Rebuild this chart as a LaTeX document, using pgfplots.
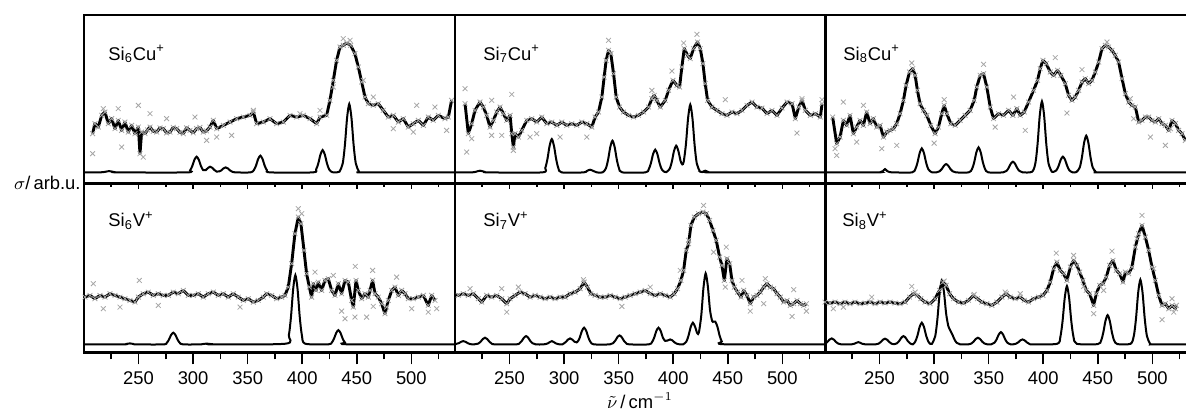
\documentclass[border=0pt]{standalone}
\usepackage{fontspec}
\setmainfont{Liberation Sans}
\usepackage{pgfplots}
\usepackage{pgfplotstable}
\pgfplotsset{compat=1.18}

% experimental traces (x in cm^-1, y in arbitrary units)
\pgfplotstableread{
x y
207.9 49.7
210.0 59.7
213.1 56.3
216.2 68.0
219.2 71.3
222.3 59.7
225.3 64.7
228.4 54.7
231.4 63.0
234.5 53.0
237.5 61.3
240.6 51.3
243.7 58.0
246.7 49.7
249.8 56.3
251.3 29.7
252.8 51.3
255.9 49.7
258.2 53.5
260.5 56.3
263.5 52.0
266.6 51.3
269.6 55.5
272.7 54.7
275.7 50.5
278.8 51.3
281.8 56.0
284.9 54.7
288.0 51.0
291.0 49.7
294.0 55.5
297.1 53.0
300.1 50.5
303.2 54.7
306.2 56.0
309.3 51.3
312.3 52.5
315.4 56.3
318.5 63.0
321.6 54.7
327.7 58.0
333.8 61.3
339.9 64.7
346.0 66.3
352.1 68.0
355.2 71.3
358.2 59.7
364.3 61.3
370.4 64.7
376.5 59.7
382.7 61.3
388.8 68.0
394.9 66.3
401.0 68.0
407.1 64.7
413.2 59.7
416.3 66.3
422.4 68.0
425.4 83.0
428.5 103.0
431.5 123.0
434.6 136.3
437.6 138.0
440.7 140.3
444.4 138.0
448.3 129.7
451.4 116.3
454.5 101.3
457.5 86.3
460.6 79.7
465.1 78.0
469.7 79.7
474.3 73.0
478.9 66.3
483.5 68.0
488.1 61.3
492.6 64.7
497.2 56.3
501.8 59.7
506.4 63.0
511.0 58.0
515.5 66.3
520.1 63.0
524.7 68.0
530.8 64.7
533.9 66.3
536.9 83.0
}\expA
\pgfplotstableread{
x y
207.9 29.7
217.7 74.7
231.4 74.7
234.5 36.3
249.8 78.0
254.3 26.3
260.5 69.7
275.7 64.7
301.7 66.3
312.4 43.0
321.6 46.3
335.3 48.0
355.2 73.0
397.9 69.7
416.3 73.0
428.5 96.3
437.6 144.7
443.8 143.0
456.0 103.0
465.1 86.3
483.5 54.7
501.8 51.3
504.9 78.0
521.6 76.3
532.3 53.0
}\outA

\pgfplotstableread{
x y
209.2 79.7
212.2 49.7
215.3 59.7
218.3 73.0
222.9 81.3
226.0 76.3
229.0 68.0
232.1 56.3
235.2 63.0
238.2 71.3
241.3 76.3
244.3 69.7
247.4 63.0
250.5 68.0
252.0 49.7
253.5 36.3
255.0 49.7
258.1 46.3
261.2 53.0
265.7 63.0
270.3 64.7
274.9 61.3
279.5 66.3
284.1 59.7
288.7 61.3
293.3 58.0
297.9 61.3
302.4 58.0
307.0 59.7
311.6 58.0
316.2 61.3
320.8 59.7
325.4 56.3
328.4 66.3
331.5 71.3
334.6 86.3
336.7 106.3
338.5 123.0
340.7 133.0
342.8 129.7
345.3 109.7
347.7 86.3
350.8 76.3
354.4 71.3
359.0 68.0
363.6 66.3
368.2 68.0
372.8 71.3
377.4 76.3
380.4 84.7
382.6 88.0
385.0 83.0
388.1 76.3
392.7 83.0
395.7 93.0
399.7 103.0
403.4 98.0
405.8 96.3
407.9 116.3
410.1 134.7
413.1 128.0
415.6 124.7
418.6 134.7
422.3 141.3
424.8 134.7
427.2 119.7
429.3 99.7
431.5 83.0
435.5 76.3
440.1 73.0
444.6 69.7
449.2 68.0
453.8 71.3
458.4 69.7
463.0 73.0
467.6 78.0
472.2 81.3
476.7 76.3
481.3 75.3
485.9 69.7
490.5 73.0
495.1 68.0
499.7 75.3
504.3 81.3
508.9 79.7
511.9 64.7
515.0 76.3
518.0 83.0
521.1 73.0
525.7 68.0
530.3 69.7
534.8 66.3
536.4 79.7
}\expB
\pgfplotstableread{
x y
209.2 94.7
210.7 31.3
215.3 44.7
233.6 83.0
233.6 48.0
242.8 48.0
252.0 89.0
253.5 33.0
268.8 46.3
274.9 49.7
296.3 46.3
320.8 46.3
340.7 143.0
380.4 93.0
398.8 112.3
409.5 140.3
421.7 149.0
447.7 83.7
513.4 50.3
518.0 84.7
536.4 83.7
}\outB

\pgfplotstableread{
x y
207.0 66.3
210.7 39.7
213.8 46.3
216.8 63.0
219.9 58.0
222.9 68.0
226.0 49.7
229.0 56.3
232.1 63.0
235.2 58.0
238.2 71.3
241.3 59.7
244.3 64.7
247.4 56.3
250.5 58.0
253.5 46.3
256.6 51.3
259.6 53.0
262.7 54.7
265.7 59.7
268.8 69.7
271.9 83.0
274.3 98.0
277.4 111.3
280.4 114.7
282.6 108.0
284.7 93.0
287.1 79.7
290.2 73.0
293.3 68.0
296.9 58.0
300.9 49.7
304.0 56.3
307.0 69.7
309.2 78.0
311.6 69.7
315.3 59.7
319.3 58.0
323.8 63.0
328.4 68.0
333.0 73.0
336.7 83.0
339.1 96.3
342.2 108.0
345.3 109.7
348.3 96.3
351.4 76.3
354.4 64.7
359.0 69.7
363.6 68.0
368.2 73.0
372.2 68.0
375.8 74.7
378.9 68.0
382.6 71.3
386.5 81.3
391.1 93.0
394.8 103.0
397.2 114.7
399.7 123.0
402.7 119.7
406.4 111.3
409.5 108.0
413.1 113.0
416.2 108.0
420.2 99.7
423.2 88.0
426.3 83.0
429.3 86.3
432.4 93.0
435.5 101.3
438.5 104.7
441.6 99.7
444.6 103.0
447.7 111.3
450.8 121.3
453.8 134.7
456.9 138.0
459.9 136.3
463.0 133.0
466.0 128.0
469.1 121.3
472.2 104.7
475.2 89.7
478.3 81.3
481.3 78.0
484.4 76.3
487.5 61.3
490.5 63.0
493.6 66.3
496.6 66.3
499.7 63.0
502.7 61.3
505.8 64.7
508.9 59.7
511.9 58.0
515.0 53.0
518.0 63.0
521.1 59.7
524.1 53.0
527.2 49.7
530.3 43.0
}\expC
\pgfplotstableread{
x y
209.2 34.7
210.7 28.0
216.8 81.3
229.0 41.3
235.2 78.0
252.0 34.7
265.7 38.0
279.5 120.3
300.0 40.3
309.2 83.7
345.3 119.0
355.9 56.3
372.8 86.3
383.5 53.0
411.0 125.7
421.7 70.3
435.5 113.7
458.4 141.3
479.8 84.7
482.9 64.7
498.2 46.3
511.9 38.0
516.5 54.7
}\outC

\pgfplotstableread{
x y
200.9 55.3
205.5 57.0
210.0 53.7
214.6 57.0
219.2 55.3
223.8 58.7
228.4 57.0
233.0 55.3
237.5 53.7
242.1 52.0
246.7 50.3
249.8 55.3
254.3 58.7
258.9 60.3
263.5 57.0
268.1 58.7
272.7 57.0
277.3 57.0
281.8 60.3
286.4 58.7
291.0 62.0
295.6 57.0
300.2 57.0
304.8 58.7
309.3 55.3
313.9 58.7
318.5 60.3
323.1 57.0
327.7 58.7
332.2 55.3
336.8 58.7
341.4 55.3
346.0 52.0
350.6 53.7
355.2 50.3
359.7 52.0
364.3 55.3
367.4 58.7
372.0 57.0
376.5 53.7
381.1 55.3
384.2 57.0
387.2 65.3
390.3 88.7
393.3 118.7
396.4 135.3
398.8 128.7
401.6 102.0
404.0 78.7
406.5 65.3
408.6 55.3
410.2 68.7
412.6 62.0
414.7 70.3
417.8 62.0
420.8 72.0
423.9 73.7
426.9 62.0
430.0 57.0
433.1 68.7
436.1 58.7
439.2 72.0
442.2 70.3
445.3 52.0
446.8 45.3
449.3 72.0
451.4 62.0
454.5 53.7
457.5 58.7
460.6 55.3
462.1 62.0
464.5 72.0
466.7 58.7
469.7 55.3
472.8 48.7
475.8 38.7
478.9 52.0
482.0 62.0
485.0 65.3
488.1 57.0
491.1 62.0
494.2 58.7
497.2 53.7
501.8 53.7
506.4 55.3
511.0 57.0
515.5 47.0
518.6 57.0
521.7 52.0
}\expD
\pgfplotstableread{
x y
208.5 68.7
217.7 43.7
233.0 45.3
250.7 72.0
268.1 47.0
343.0 45.3
396.4 143.7
399.5 138.7
411.7 80.3
428.5 77.0
436.1 41.3
439.2 33.7
448.3 35.3
448.6 86.0
459.0 35.3
464.5 82.0
465.1 46.0
477.4 45.3
486.5 75.3
500.3 43.7
515.5 40.3
523.2 43.7
}\outD

\pgfplotstableread{
x y
198.5 58.7
203.0 57.0
207.6 58.7
212.2 57.0
216.8 58.7
221.4 53.7
224.5 50.3
229.0 57.0
233.6 55.3
238.2 57.0
242.8 53.7
247.4 48.7
250.5 53.7
255.0 57.0
259.6 60.3
264.2 58.7
268.8 55.3
273.4 57.0
278.0 55.3
282.6 53.7
287.1 55.3
291.7 53.7
296.3 55.3
300.9 55.3
305.5 58.7
310.1 60.3
314.7 63.7
318.3 70.3
321.4 65.3
324.5 58.7
328.4 57.0
333.0 55.3
337.6 55.3
342.2 57.0
346.8 55.3
351.4 53.7
355.9 55.3
360.5 57.0
365.1 58.7
369.7 60.3
374.3 62.0
378.9 58.7
383.5 57.0
388.1 58.7
392.7 57.0
397.2 55.3
400.9 58.7
404.0 63.7
407.0 72.0
409.5 82.0
411.9 102.0
414.1 108.7
416.2 127.0
419.3 135.3
423.2 138.7
427.2 140.3
430.3 138.7
433.3 132.0
436.4 122.0
439.4 112.0
442.5 95.3
444.6 87.0
446.8 72.0
449.2 93.7
451.7 88.7
453.8 72.0
456.0 65.3
459.0 60.3
462.1 55.3
464.5 62.0
467.6 57.0
470.6 48.7
473.7 55.3
476.7 57.0
479.8 60.3
482.9 65.3
485.9 68.7
489.0 65.3
492.0 63.7
495.1 58.7
498.2 55.3
501.2 50.3
504.3 52.0
507.3 47.0
510.4 48.7
513.4 52.0
516.5 48.7
519.6 47.0
522.0 48.7
}\expE
\pgfplotstableread{
x y
199.1 45.3
213.8 63.7
242.8 63.7
247.4 40.3
258.1 65.3
317.7 72.7
352.9 46.0
378.9 65.3
406.4 82.0
414.1 112.0
427.8 147.0
437.0 100.3
447.7 65.3
448.6 105.3
463.0 72.0
470.6 41.3
482.9 48.7
484.4 73.7
508.9 36.0
510.4 62.7
522.0 41.3
}\outE

\pgfplotstableread{
x y
200.0 50.3
204.6 49.3
209.2 50.3
213.8 48.7
218.3 50.3
222.9 48.7
227.5 50.3
232.1 48.7
236.7 49.3
241.3 50.3
245.9 48.7
250.5 50.3
255.0 49.3
259.6 50.3
264.2 49.3
268.8 48.7
273.4 50.3
277.4 55.3
281.0 58.7
284.7 57.0
287.8 53.7
291.7 50.3
296.3 48.7
300.9 53.7
304.9 62.0
307.9 70.3
311.0 67.0
314.1 58.7
317.7 53.7
322.3 50.3
326.9 49.3
331.5 52.0
336.1 57.0
339.7 53.7
343.7 50.3
348.3 48.7
352.9 47.0
357.5 50.3
362.1 55.3
366.1 58.7
369.7 55.3
374.3 53.7
378.9 55.3
382.6 52.0
386.5 50.3
391.1 53.7
395.7 55.3
399.7 57.0
403.4 62.0
406.4 70.3
409.5 83.7
412.5 90.3
415.6 82.0
418.6 78.7
421.7 72.0
424.8 85.3
427.8 92.0
430.9 87.0
433.3 80.3
436.4 72.0
439.4 62.0
442.5 58.7
446.2 47.0
448.6 58.7
451.7 67.0
454.7 68.7
457.8 75.3
460.8 87.0
463.9 92.0
467.0 82.0
470.0 78.7
473.1 70.3
475.2 80.3
478.3 78.7
481.3 85.3
484.4 105.3
487.5 118.7
490.5 127.0
493.6 115.3
496.6 102.0
499.7 85.3
502.7 72.0
505.8 57.0
508.9 47.0
511.9 48.7
515.0 43.7
518.0 47.0
521.1 43.7
522.0 47.0
}\expF
\pgfplotstableread{
x y
207.6 43.7
216.8 45.3
242.8 55.3
279.5 66.0
282.6 60.3
309.2 71.3
336.7 58.0
365.1 60.3
378.9 58.7
411.9 99.3
427.8 97.0
437.0 66.0
446.2 38.7
455.3 62.0
463.0 101.3
485.9 113.7
490.5 137.0
501.2 83.7
508.9 32.7
518.0 53.7
519.6 40.3
}\outF

\pgfplotsset{
  panel/.style={
    scale only axis, width=185.5pt,
    xmin=200, xmax=540, ymin=0,
    xtick={250,300,...,500}, minor xtick={225,275,...,525},
    ytick=\empty, xtick pos=left, tick align=outside,
    axis line style={line width=1.1pt},
    every tick/.style={black, line width=0.8pt},
    ticklabel style={font=\fontsize{9.2}{10}\selectfont},
    /pgf/number format/assume math mode=true,
  },
  toprow/.style={panel, height=84.2pt, ymax=168.3, xticklabels={},
    major tick length=2.6pt, minor tick length=1.6pt},
  botrow/.style={panel, height=84.5pt, ymax=169,
    major tick length=6pt, minor tick length=3.5pt},
  rawpts/.style={only marks, mark=x, mark size=1.7pt,
    mark options={gray!70, line width=0.4pt}},
  trace/.style={no marks, black, line width=1.45pt, line join=round},
  calc/.style={no marks, black, line width=1pt, smooth, tension=0.45},
}

\begin{document}
\begin{tikzpicture}
\path[use as bounding box] (0,0) rectangle (593pt,-208.5pt);

% ---- top row ----
\begin{axis}[toprow, at={(42pt,-7.5pt)}, anchor=north west]
\addplot[rawpts] table {\expA};
\addplot[rawpts] table {\outA};
\addplot[trace] table {\expA};
\addplot[calc] coordinates {(200,11) (214,11) (219,11.5) (223,12.3) (227,11.5) (232,11) (294.2,11) (297.2,13.0) (299.2,17.3) (301.2,23.6) (303.2,26.7) (305.2,23.6) (307.2,17.3) (309.2,13.3) (311.5,13.2) (313.5,15.3) (315.5,16.7) (317.5,15.6) (319.5,13.4) (321.5,11.8) (324,12) (325.8,13) (327.8,15) (329.8,16) (331.8,15) (333.8,13) (335.8,11.7) (339,11) (352.6,11) (355.6,13.2) (357.6,17.7) (359.6,24.4) (361.6,27.7) (363.6,24.4) (365.6,17.7) (367.6,13.2) (370.6,11) (409.7,11) (412.7,13.9) (414.7,19.9) (416.7,28.8) (418.7,33.3) (420.7,28.8) (422.7,19.9) (424.7,13.9) (427.5,11.2) (432,11.1) (434.1,11.7) (437.1,19.9) (439.1,38.3) (441.1,65.6) (443.1,79.3) (445.1,65.6) (447.1,38.3) (449.1,19.9) (452.1,11.7) (455,11) (540,11)};
\end{axis}

\begin{axis}[toprow, at={(227.5pt,-7.5pt)}, anchor=north west]
\addplot[rawpts] table {\expB};
\addplot[rawpts] table {\outB};
\addplot[trace] table {\expB};
\addplot[calc] coordinates {(200,11) (215,11) (219,11.6) (222.9,12.7) (227,11.6) (231,11) (279.7,11) (282.7,15.3) (284.7,24.3) (286.7,37.6) (288.7,44.3) (290.7,37.6) (292.7,24.3) (294.7,15.3) (297.7,11) (318,11) (320.8,12.4) (323.8,13.7) (326.8,12.4) (330,11) (335.3,11) (338.3,15.1) (340.3,23.7) (342.3,36.4) (344.3,42.7) (346.3,36.4) (348.3,23.7) (350.3,15.1) (353.3,11) (374.5,11) (377.5,14) (379.5,20.1) (381.5,29.2) (383.5,33.7) (385.5,29.2) (387.5,20.1) (389.5,14) (392,11.5) (393.7,11.3) (396.7,14.5) (398.7,21.7) (400.7,32.4) (402.7,37.7) (404.7,32.4) (406.7,22.5) (408.3,19) (409.6,21.6) (411.6,38.8) (413.6,65.2) (415.6,78.7) (417.6,65.2) (419.6,38.1) (421.6,19.8) (424.6,11.7) (426.5,11.3) (429.3,12.7) (432,11.5) (436,11) (540,11)};
\end{axis}

\begin{axis}[toprow, at={(412.5pt,-7.5pt)}, anchor=north west]
\addplot[rawpts] table {\expC};
\addplot[rawpts] table {\outC};
\addplot[trace] table {\expC};
\addplot[calc] coordinates {(200,11) (248,11) (251,11.4) (253,12.3) (255,14.3) (257,12.3) (259,11.4) (263,11) (279.7,11) (282.7,14.1) (284.7,20.6) (286.7,30.2) (288.7,35) (290.7,30.2) (292.7,20.6) (294.7,14.1) (297.7,11.2) (302,11) (305,12.1) (307,14.3) (309,17.6) (311,19.3) (313,17.6) (315,14.3) (317,12.1) (320,11) (331.7,11) (334.7,14.3) (336.7,21) (338.7,31) (340.7,36) (342.7,31) (344.7,21) (346.7,14.3) (349.7,11) (363.2,11) (366.2,12.4) (368.2,15.3) (370.2,19.6) (372.2,21.7) (374.2,19.6) (376.2,15.3) (378.2,12.4) (381.2,11) (389.8,11.7) (392.8,20.2) (394.8,39.4) (396.8,67.8) (398.8,82) (400.8,67.8) (402.8,39.4) (404.8,20.2) (407.8,11.7) (409,11.4) (412,13) (414,17.3) (416,23.6) (418,26.7) (420,23.6) (422,17.3) (424,13) (427,11) (430.4,11.4) (433.4,15.8) (435.4,25.7) (437.4,40.4) (439.4,47.7) (441.4,40.4) (443.4,25.7) (445.4,15.8) (448.4,11.4) (452,11) (540,11)};
\end{axis}

% ---- bottom row ----
\begin{axis}[botrow, at={(42pt,-91.7pt)}, anchor=north west]
\addplot[rawpts] table {\expD};
\addplot[rawpts] table {\outD};
\addplot[trace] table {\expD};
\addplot[calc] coordinates {(200,8) (236,8) (239,8.5) (242,9) (245,8.5) (248,8) (272.8,8) (275.8,9.5) (277.8,12.7) (279.8,17.4) (281.8,19.7) (283.8,17.4) (285.8,12.7) (287.8,9.5) (290.8,8) (307,8) (310,8.5) (312.4,8.8) (315,8.5) (318,8) (384.7,8.7) (387.7,17) (389.7,35.7) (391.7,63.4) (393.7,77.3) (395.7,63.4) (397.7,35.7) (399.7,17) (402.7,8.7) (424.1,8.1) (427.1,9.9) (429.1,13.7) (431.1,19.4) (433.1,22.3) (435.1,19.4) (437.1,13.7) (439.1,9.9) (442.1,8.1) (540,8)};
\end{axis}

\begin{axis}[botrow, at={(227.5pt,-91.7pt)}, anchor=north west]
\addplot[rawpts] table {\expE};
\addplot[rawpts] table {\outE};
\addplot[trace] table {\expE};
\addplot[calc] coordinates {(200,8.2) (203.6,9.3) (205.6,10.6) (207.6,11.3) (209.6,10.6) (211.6,9.3) (213.6,8.4) (217,8) (221.5,8.9) (223.5,10.7) (225.5,13.4) (227.5,14.7) (229.5,13.4) (231.5,10.7) (233.5,8.9) (236.5,8) (256,8) (259.1,9.1) (261.1,11.3) (263.1,14.6) (265.1,16.3) (267.1,14.6) (269.1,11.3) (271.1,9.1) (274.1,8) (281,8) (285,9) (288.7,11.3) (292.4,9) (296,8) (298.5,8.1) (301.5,10.4) (303.5,12.8) (305.5,14) (307.5,12.8) (309.5,10.7) (311.5,10) (313.3,12.2) (314.3,14.7) (316.3,21.4) (318.3,24.7) (320.3,21.4) (322.3,14.7) (324.3,10.2) (327.3,8) (341.8,8) (344.8,9.2) (346.8,11.6) (348.8,15.2) (350.8,17) (352.8,15.2) (354.8,11.6) (356.8,9.2) (359.8,8) (377.5,8) (380.5,10.2) (382.5,14.7) (384.5,21.4) (386.5,24.7) (388.5,21.4) (390.5,14.8) (392.5,11.6) (394.5,11.7) (397.2,13) (399.2,12) (401.2,10) (403.2,8.7) (406,8) (409,8) (412,10.8) (414,16.7) (416,25.4) (418,29.7) (420,25.7) (422,19.2) (423.5,19.9) (425.7,37.1) (427.7,64.6) (429.7,79) (431.7,66.2) (433.7,42.3) (435.7,31.3) (437,30.9) (438.5,30.9) (440.5,25.7) (442.5,16.8) (444.5,10.9) (447.5,8.1) (540,8)};
\end{axis}

\begin{axis}[botrow, at={(412.5pt,-91.7pt)}, anchor=north west]
\addplot[rawpts] table {\expF};
\addplot[rawpts] table {\outF};
\addplot[trace] table {\expF};
\addplot[calc] coordinates {(200,8.3) (202.1,10.4) (204.1,12.8) (206.1,14) (208.1,12.8) (210.1,10.4) (212.1,8.8) (215,8) (224,8) (227,8.7) (230.6,10.3) (234,8.7) (237,8) (246,8) (249,8.7) (251,10.3) (253,12.6) (255,13.7) (257,12.6) (259,10.3) (261,8.7) (262.9,8.2) (265.9,9.1) (267.9,11.3) (269.9,14.6) (271.9,16.3) (273.9,14.6) (275.9,11.3) (277.9,9.1) (280.5,8.1) (282.7,10.8) (284.7,16.7) (286.7,25.4) (288.7,29.7) (290.7,25.4) (292.7,16.7) (294.7,10.8) (296.5,8.5) (298,8.6) (301,16.2) (303,33.3) (305,58.6) (307,71.7) (309,60.5) (311,38.8) (313,26.4) (314.7,22.2) (316.7,17.9) (318.7,12.8) (320.7,9.6) (323.7,8.1) (331,8) (334.1,8.9) (336.1,10.7) (338.1,13.4) (340.1,14.7) (342.1,13.4) (344.1,10.7) (346.1,8.9) (349,8) (352.2,8) (355.2,9.6) (357.2,12.9) (359.2,17.8) (361.2,20.3) (363.2,17.8) (365.2,12.9) (367.2,9.6) (370.2,8) (372,8) (375,8.7) (377,10) (379,12) (381,13) (383,12) (385,10) (387,8.7) (390,8) (412.7,8.6) (415.7,15.6) (417.7,31.3) (419.7,54.6) (421.7,66.3) (423.7,54.6) (425.7,31.3) (427.7,15.6) (430.7,8.6) (450,8.3) (453,11.8) (455,19.7) (457,31.4) (459,37.3) (461,31.4) (463,19.7) (465,11.8) (468,8.3) (480,8.6) (483,16.4) (485,33.9) (487,59.8) (489,72.7) (491,59.8) (493,33.9) (495,16.4) (498,8.6) (501,8) (540,8)};
\end{axis}

% labels
\node[anchor=east, font=\fontsize{9.2}{10}\selectfont, inner sep=0pt] at (40.5pt,-91.3pt) {$\sigma$/\,arb.u.};
\node[font=\fontsize{9.2}{10}\selectfont, inner sep=0pt] at (320pt,-200.5pt) {$\tilde{\nu}$\,/\,cm$^{-1}$};
\begin{scope}[every node/.style={anchor=west, inner sep=0pt, font=\fontsize{9.2}{10}\selectfont}]
\node at (54pt,-27pt) {Si\textsubscript{6}Cu\textsuperscript{+}};
\node at (241.5pt,-27pt) {Si\textsubscript{7}Cu\textsuperscript{+}};
\node at (421.5pt,-27pt) {Si\textsubscript{8}Cu\textsuperscript{+}};
\node at (54pt,-110.3pt) {Si\textsubscript{6}V\textsuperscript{+}};
\node at (241.5pt,-110.3pt) {Si\textsubscript{7}V\textsuperscript{+}};
\node at (421pt,-110.3pt) {Si\textsubscript{8}V\textsuperscript{+}};
\end{scope}
\end{tikzpicture}
\end{document}
